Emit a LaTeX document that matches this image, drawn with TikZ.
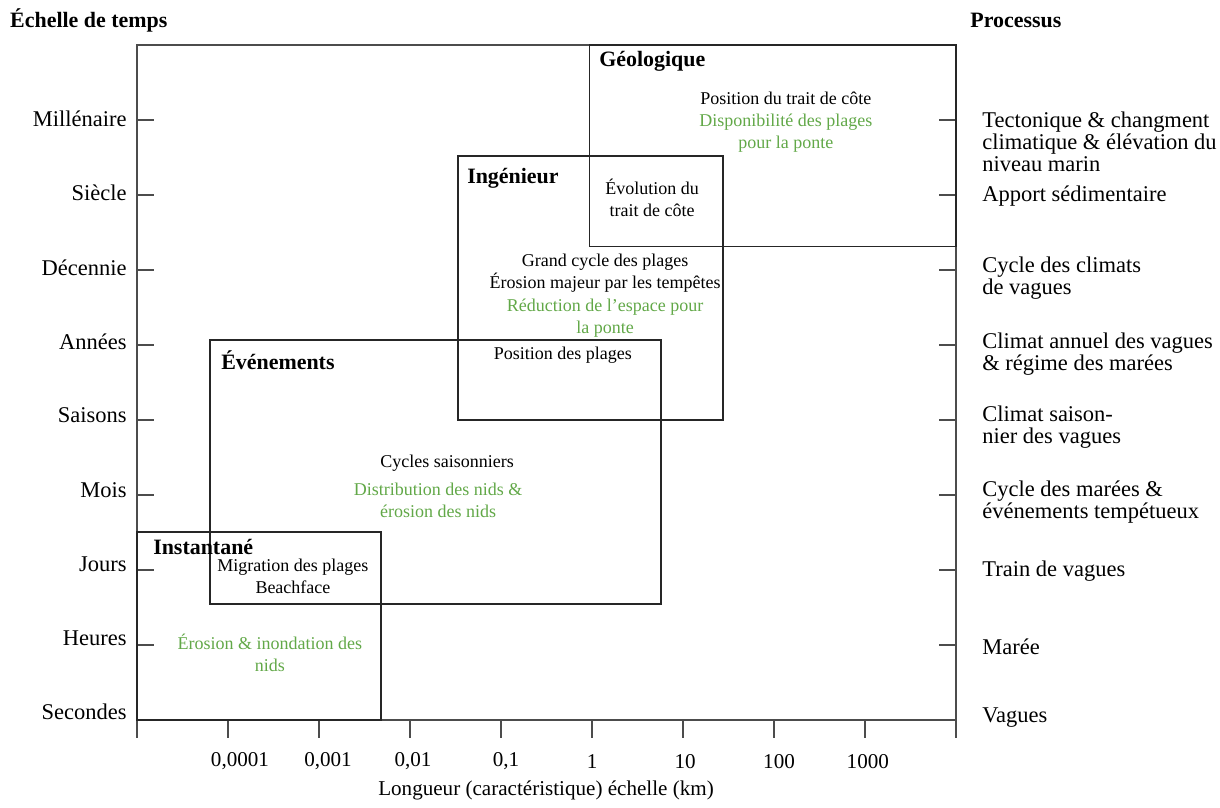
\documentclass[tikz,border=0pt]{standalone}
\usepackage{fontspec}
\setmainfont{Liberation Serif}
\definecolor{vert}{RGB}{98,168,72}

\begin{document}
\begin{tikzpicture}[x=2.275cm, y=1.875cm,
  cadre/.style={line width=0.9pt, black!70},
  zone/.style={line width=0.9pt, black!85},
  lbl/.style={font=\fontsize{15}{15.6}\selectfont, inner sep=0pt},
  grand/.style={font=\fontsize{16}{15.6}\selectfont, inner sep=0pt},
  titre/.style={font=\fontsize{15.6}{16}\selectfont\bfseries, inner sep=0pt, anchor=west},
  txt/.style={font=\fontsize{12.8}{15.6}\selectfont, inner sep=0pt, align=center},
  vtxt/.style={txt, text=vert}]
\useasboundingbox (-1.505,-1.16) rectangle (11.90,9.6);

% cadre et graduations
\draw[cadre] (0,0) rectangle (9,9);
\foreach \k in {0,...,9}
  \draw[cadre] (\k,0) -- (\k,-0.24);
\foreach \j in {1,...,8} {
  \draw[cadre] (0,\j) -- (0.19,\j);
  \draw[cadre] (9,\j) -- (8.81,\j);
}

% echelle de temps
\foreach \t [count=\j from 0] in {Secondes,Heures,Jours,Mois,Saisons,Années,Décennie,Siècle,Millénaire}
  \node[grand, anchor=east] (temps\j) at (-0.11,\j*0.988+0.107) {\t};

% longueurs
\foreach \x/\v [count=\k] in {1.132/{0,0001},2.099/{0,001},3.033/{0,01},4.055/{0,1},5.0/1,6.022/10,7.055/100,8.03/1000}
  \node[lbl] (long\k) at (\x,-0.55) {\v};
\node[lbl] (axex) at (4.495,-0.933) {Longueur (caractéristique) échelle (km)};

\node[titre] (echelle) at (-1.396,9.333) {Échelle de temps};
\node[titre] (processus) at (9.154,9.333) {Processus};

% processus
\node[grand, anchor=west, align=left] (proc8) at (9.286,7.707) {Tectonique \& changment\\climatique \& élévation du\\niveau marin};
\node[grand, anchor=west, align=left] (proc7) at (9.286,6.99) {Apport sédimentaire};
\node[grand, anchor=west, align=left] (proc6) at (9.286,5.89) {Cycle des climats\\de vagues};
\node[grand, anchor=west, align=left] (proc5) at (9.286,4.88) {Climat annuel des vagues\\\& régime des marées};
\node[grand, anchor=west, align=left] (proc4) at (9.286,3.91) {Climat saison-\\nier des vagues};
\node[grand, anchor=west, align=left] (proc3) at (9.286,2.91) {Cycle des marées \&\\événements tempétueux};
\node[grand, anchor=west, align=left] (proc2) at (9.286,1.98) {Train de vagues};
\node[grand, anchor=west, align=left] (proc1) at (9.286,0.98) {Marée};
\node[grand, anchor=west, align=left] (proc0) at (9.286,0.03) {Vagues};

% zones
\draw[zone] (4.97,6.31) rectangle (9,9);
\draw[zone] (3.527,4) rectangle (6.44,7.52);
\draw[zone] (0.802,1.547) rectangle (5.758,5.067);
\draw[zone] (0,0) rectangle (2.681,2.507);

% Geologique
\node[titre] (geo) at (5.077,8.787) {Géologique};
\node[txt] (geo1) at (7.13,8.29) {Position du trait de côte};
\node[vtxt] (geo2) at (7.13,7.83) {Disponibilité des plages\\pour la ponte};

% Ingenieur
\node[titre] (ing) at (3.626,7.227) {Ingénieur};
\node[txt] (ing1) at (5.66,6.96) {Évolution du\\trait de côte};
\node[txt] (ing2) at (5.143,5.953) {Grand cycle des plages\\Érosion majeur par les tempêtes};
\node[vtxt] (ing3) at (5.143,5.353) {Réduction de l’espace pour\\la ponte};
\node[txt] (ing4) at (4.68,4.87) {Position des plages};

% Evenements
\node[titre] (eve) at (0.923,4.8) {Événements};
\node[txt] (eve1) at (3.407,3.427) {Cycles saisonniers};
\node[vtxt] (eve2) at (3.308,2.93) {Distribution des nids \&\\érosion des nids};

% Instantane
\node[titre] (ins) at (0.176,2.307) {Instantané};
\node[txt] (ins1) at (1.714,1.92) {Migration des plages\\Beachface};
\node[vtxt] (ins2) at (1.46,0.9) {Érosion \& inondation des\\nids};

\end{tikzpicture}
\end{document}
